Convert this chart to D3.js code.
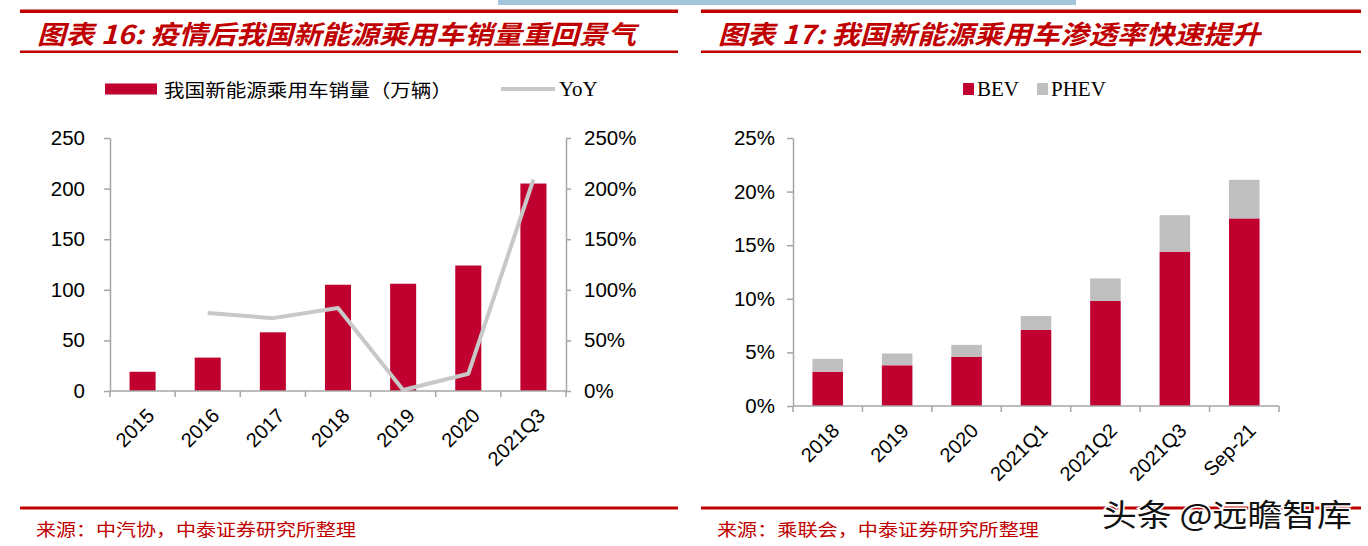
<!DOCTYPE html>
<html><head><meta charset="utf-8">
<script src="https://cdn.jsdelivr.net/npm/d3@7"></script>
<style>
html,body{margin:0;padding:0;background:#fff;}
svg{display:block;}
</style></head>
<body>
<svg id="c" width="1368" height="546"></svg>
<script>
// ---- data ----
const cats1 = ['2015','2016','2017','2018','2019','2020','2021Q3'];
const sales = [19, 33, 58, 105, 106, 124, 205];          // 万辆
const yoy   = [null, 77, 72, 82, 1, 17, 209];            // %
const leftTicks = [0, 50, 100, 150, 200, 250];
const rightTicks = [0, 50, 100, 150, 200, 250];

const cats2 = ['2018','2019','2020','2021Q1','2021Q2','2021Q3','Sep-21'];
const bev  = [3.2, 3.8, 4.6, 7.1, 9.8, 14.4, 17.5];      // %
const phev = [1.2, 1.1, 1.1, 1.3, 2.1, 3.4, 3.6];        // %
const pctTicks = [0, 5, 10, 15, 20, 25];

const title1 = '图表 16: 疫情后我国新能源乘用车销量重回景气';
const title2 = '图表 17: 我国新能源乘用车渗透率快速提升';
const legend1 = ['我国新能源乘用车销量（万辆）', 'YoY'];
const legend2 = ['BEV', 'PHEV'];
const source1 = '来源：中汽协，中泰证券研究所整理';
const source2 = '来源：乘联会，中泰证券研究所整理';
const watermark = '头条 @远瞻智库';

// ---- style ----
const RED = '#C0002F', GRAY = '#BFBFBF', TITLE = '#C00000', AXIS = '#A6A6A6';
const SANS = '"Liberation Sans", Arial, sans-serif';
const SERIF = '"Liberation Serif", "Times New Roman", serif';
const CJK = '"Noto Sans CJK SC", sans-serif';

const svg = d3.select('#c');

// top blue strip (cropped image above)
svg.append('rect').attr('x', 498).attr('y', 0).attr('width', 578).attr('height', 5).attr('fill', '#A2C5DC');

// ---- header / footer frames ----
function frame(x0, x1, title, tlen, source, slen) {
  svg.append('rect').attr('x', x0).attr('y', 9.5).attr('width', x1 - x0).attr('height', 3.5).attr('fill', TITLE);
  svg.append('rect').attr('x', x0).attr('y', 50.5).attr('width', x1 - x0).attr('height', 2.5).attr('fill', TITLE);
  svg.append('text').attr('x', x0 + 17).attr('y', 32).attr('dominant-baseline', 'central')
    .attr('font-family', CJK).attr('font-weight', 'bold').attr('font-style', 'italic')
    .attr('font-size', 26).attr('fill', TITLE)
    .attr('textLength', tlen).attr('lengthAdjust', 'spacingAndGlyphs').text(title);
  svg.append('rect').attr('x', x0).attr('y', 506.5).attr('width', x1 - x0).attr('height', 3).attr('fill', TITLE);
  svg.append('text').attr('x', x0 + 16).attr('y', 528).attr('dominant-baseline', 'central')
    .attr('font-family', CJK).attr('font-size', 17).attr('fill', TITLE)
    .attr('textLength', slen).attr('lengthAdjust', 'spacingAndGlyphs').text(source);
}
frame(20, 678, title1, 599, source1, 320);
frame(701, 1361, title2, 542, source2, 322);

function styleAxis(g) {
  g.select('.domain').attr('stroke', AXIS).attr('stroke-width', 1.5);
  g.selectAll('.tick line').attr('stroke', AXIS).attr('stroke-width', 1.5);
  g.selectAll('.tick text').attr('font-family', SANS).attr('font-size', 20.5).attr('fill', '#000');
}
function catAxis(g, x, y0, cats) {
  const st = x.step(), r = x.range();
  g.append('line').attr('x1', r[0]).attr('x2', r[1]).attr('y1', y0).attr('y2', y0)
    .attr('stroke', AXIS).attr('stroke-width', 1.5);
  g.selectAll('line.tk').data(d3.range(cats.length + 1)).join('line').attr('class', 'tk')
    .attr('x1', i => r[0] + i * st).attr('x2', i => r[0] + i * st)
    .attr('y1', y0).attr('y2', y0 + 6).attr('stroke', AXIS).attr('stroke-width', 1.5);
  g.selectAll('text.cl').data(cats).join('text').attr('class', 'cl')
    .attr('transform', d => `translate(${x(d) + x.bandwidth() / 2 + 8},${y0 + 21}) rotate(-45)`)
    .attr('text-anchor', 'end').attr('dy', '0.35em')
    .attr('font-family', SANS).attr('font-size', 20).attr('fill', '#000').text(d => d);
}

// ---- chart 1 ----
const x1 = d3.scaleBand().domain(cats1).range([110, 566]).paddingInner(0.6).paddingOuter(0.3);
const y1 = d3.scaleLinear().domain([0, 250]).range([391, 138]);
const y1r = d3.scaleLinear().domain([0, 250]).range([391, 138]);
const g1 = svg.append('g');

g1.selectAll('rect.bar').data(cats1).join('rect')
  .attr('x', d => x1(d)).attr('width', x1.bandwidth())
  .attr('y', (d, i) => y1(sales[i])).attr('height', (d, i) => y1(0) - y1(sales[i]))
  .attr('fill', RED);

g1.append('g').attr('transform', 'translate(110,0)')
  .call(d3.axisLeft(y1).tickValues(leftTicks).tickSize(6).tickPadding(19).tickSizeOuter(0))
  .call(styleAxis);
g1.append('g').attr('transform', 'translate(566,0)')
  .call(d3.axisRight(y1r).tickValues(rightTicks).tickSize(5).tickPadding(13).tickSizeOuter(0).tickFormat(d => d + '%'))
  .call(styleAxis);
catAxis(g1, x1, 391, cats1);

const line = d3.line().defined(d => d[1] !== null)
  .x(d => x1(d[0]) + x1.bandwidth() / 2).y(d => y1r(d[1]));
g1.append('path').datum(cats1.map((c, i) => [c, yoy[i]]))
  .attr('d', line).attr('fill', 'none').attr('stroke', '#C8C8C8').attr('stroke-width', 4)
  .attr('stroke-linejoin', 'round');

// legend 1
svg.append('rect').attr('x', 105).attr('y', 83.5).attr('width', 52).attr('height', 11).attr('fill', RED);
svg.append('text').attr('x', 164).attr('y', 89).attr('dominant-baseline', 'central')
  .attr('font-family', CJK).attr('font-size', 18).attr('fill', '#000')
  .attr('textLength', 288).attr('lengthAdjust', 'spacingAndGlyphs').text(legend1[0]);
svg.append('line').attr('x1', 501).attr('x2', 555).attr('y1', 89).attr('y2', 89)
  .attr('stroke', '#C8C8C8').attr('stroke-width', 4);
svg.append('text').attr('x', 559).attr('y', 89).attr('dominant-baseline', 'central')
  .attr('font-family', SERIF).attr('font-size', 21).attr('fill', '#000').text(legend1[1]);

// ---- chart 2 ----
const x2 = d3.scaleBand().domain(cats2).range([793, 1279]).paddingInner(0.56).paddingOuter(0.28);
const y2 = d3.scaleLinear().domain([0, 25]).range([406, 138]);
const g2 = svg.append('g');
const rows = cats2.map((c, i) => ({cat: c, BEV: bev[i], PHEV: phev[i]}));
const stack = d3.stack().keys(['BEV', 'PHEV'])(rows);
const colors = {BEV: RED, PHEV: GRAY};
g2.selectAll('g.s').data(stack).join('g').attr('fill', s => colors[s.key])
  .selectAll('rect').data(s => s).join('rect')
  .attr('x', d => x2(d.data.cat)).attr('width', x2.bandwidth())
  .attr('y', d => y2(d[1])).attr('height', d => y2(d[0]) - y2(d[1]));

g2.append('g').attr('transform', 'translate(793,0)')
  .call(d3.axisLeft(y2).tickValues(pctTicks).tickSize(6).tickPadding(12).tickSizeOuter(0).tickFormat(d => d + '%'))
  .call(styleAxis);
catAxis(g2, x2, 406, cats2);

// legend 2
svg.append('rect').attr('x', 963).attr('y', 83).attr('width', 11).attr('height', 12).attr('fill', RED);
svg.append('text').attr('x', 977).attr('y', 89).attr('dominant-baseline', 'central')
  .attr('font-family', SERIF).attr('font-size', 21).attr('fill', '#000').text(legend2[0]);
svg.append('rect').attr('x', 1037).attr('y', 83).attr('width', 11).attr('height', 12).attr('fill', GRAY);
svg.append('text').attr('x', 1051).attr('y', 89).attr('dominant-baseline', 'central')
  .attr('font-family', SERIF).attr('font-size', 21).attr('fill', '#000').text(legend2[1]);

// watermark
svg.append('text').attr('x', 1102).attr('y', 526)
  .attr('font-family', CJK).attr('font-size', 31).attr('fill', '#111')
  .attr('stroke', '#fff').attr('stroke-width', 3).attr('paint-order', 'stroke')
  .attr('textLength', 250).attr('lengthAdjust', 'spacingAndGlyphs').text(watermark);
</script>
</body></html>
